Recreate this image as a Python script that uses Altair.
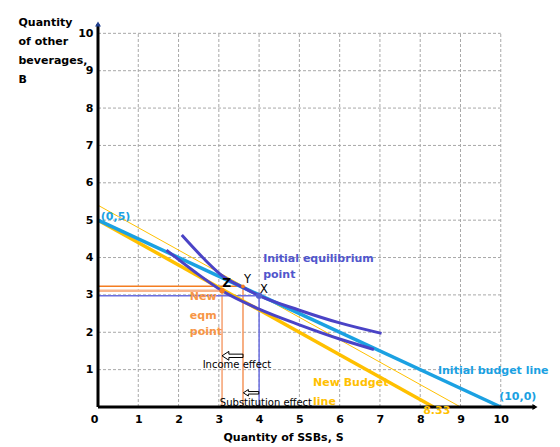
import altair as alt
import pandas as pd

# Axis extents (a little beyond 10 to leave room for the arrow heads)
S_MAX, B_MAX = 10.85, 10.25

x_ticks = list(range(0, 11))
y_ticks = list(range(1, 11))
grid_vals = list(range(1, 11))

# Budget lines
init_S, init_B = [0, 10], [5, 0]
new_S, new_B = [0, 8.33], [5, 0]
comp_S, comp_B = [0, 9], [5.4, 0]

# Indifference curves
ic1_S = [2.08, 2.6, 3.1, 3.6, 4.0, 5.0, 6.0, 7.04]
ic1_B = [4.6, 4.0, 3.5, 3.2, 2.98, 2.59, 2.25, 1.97]
ic2_S = [1.7, 2.4, 3.08, 4.0, 5.0, 6.0, 6.85]
ic2_B = [4.2, 3.62, 3.11, 2.62, 2.2, 1.82, 1.54]

# Equilibrium points
pt_name = ["X", "Y", "Z"]
pt_S = [4.0, 3.6, 3.08]
pt_B = [2.98, 3.23, 3.11]

BLUE = "#1BA1E2"
GOLD = "#FFC000"
PURPLE = "#4A43C6"
ORANGE = "#F47C20"
PEACH = "#F8B48A"
LAVENDER = "#6B6FE0"
FONT = "DejaVu Sans"

xs = alt.Scale(domain=[0, S_MAX], nice=False, zero=True)
ys = alt.Scale(domain=[0, B_MAX], nice=False, zero=True)

x_axis = alt.Axis(
    values=x_ticks, grid=False, domain=False, ticks=False, labelPadding=6,
    labelFont=FONT, labelFontWeight="bold", labelFontSize=11, labelColor="black",
    labelAlign={"condition": {"test": "datum.value == 0", "value": "right"}, "value": "center"},
    title="Quantity of SSBs, S", titleFont=FONT, titleFontWeight="bold", titleFontSize=11,
    titleColor="black", titleX=185, titleY=30, titleBaseline="middle")
y_axis = alt.Axis(
    values=y_ticks, grid=False, domain=False, ticks=False, labelPadding=5,
    labelFont=FONT, labelFontWeight="bold", labelFontSize=11, labelColor="black",
    title=["Quantity", "of other", "beverages,", "B"], titleAngle=0, titleAlign="left",
    titleBaseline="top", titleX=-80, titleY=-8, titleLineHeight=19,
    titleFont=FONT, titleFontWeight="bold", titleFontSize=11, titleColor="black")


def X(field="S", **kw):
    return alt.X(f"{field}:Q", scale=xs, axis=x_axis, **kw)


def Y(field="B", **kw):
    return alt.Y(f"{field}:Q", scale=ys, axis=y_axis, **kw)


# Dashed grid, stopping at 10 on both axes
vgrid = pd.DataFrame({"S": grid_vals, "B0": 0, "B1": 10})
hgrid = pd.DataFrame({"B": grid_vals, "S0": 0, "S1": 10})
grid_style = dict(color="#A8A8A8", strokeDash=[3, 2], strokeWidth=1)

vg = alt.Chart(vgrid).mark_rule(**grid_style).encode(x=X(), y=Y("B0"), y2="B1")
hg = alt.Chart(hgrid).mark_rule(**grid_style).encode(y=Y(), x=X("S0"), x2="S1")


def seg(S, B, color, width):
    df = pd.DataFrame({"S": S, "B": B, "o": range(len(S))})
    return alt.Chart(df).mark_line(color=color, strokeWidth=width, interpolate="monotone").encode(
        x=X(), y=Y(), order="o:Q")


comp_line = seg(comp_S, comp_B, GOLD, 1)
new_line = seg(new_S, new_B, GOLD, 3.5)
init_line = seg(init_S, init_B, BLUE, 3.5)
ic1 = seg(ic1_S, ic1_B, PURPLE, 3)
ic2 = seg(ic2_S, ic2_B, PURPLE, 3)

# Dropped guides from each equilibrium point to both axes
pts = pd.DataFrame({"name": pt_name, "S": pt_S, "B": pt_B,
                    "vcol": [LAVENDER, "#F5955A", "#F5A070"],
                    "hcol": [LAVENDER, ORANGE, PEACH],
                    "hw": [1.5, 1.5, 2.5]})
pts["zero"] = 0.0
vguide = alt.Chart(pts).mark_rule(strokeWidth=1.5).encode(
    x=X(), y=Y("zero"), y2="B", color=alt.Color("vcol:N", scale=None))
hguide = alt.Chart(pts).mark_rule().encode(
    y=Y(), x=X("zero"), x2="S", color=alt.Color("hcol:N", scale=None),
    strokeWidth=alt.StrokeWidth("hw:Q", scale=None))

dot_x = alt.Chart(pts[pts.name == "X"]).mark_point(filled=True, size=40, color="#5560D0", opacity=1).encode(x=X(), y=Y())
dot_y = alt.Chart(pts[pts.name == "Y"]).mark_point(filled=True, size=14, color=ORANGE, opacity=1).encode(x=X(), y=Y())
dot_z = alt.Chart(pts[pts.name == "Z"]).mark_point(filled=True, size=30, color=ORANGE, opacity=1).encode(x=X(), y=Y())

# Axis lines with arrow heads
axis_df = pd.DataFrame({"S": [0], "B": [0], "S1": [S_MAX], "B1": [B_MAX]})
x_axis_line = alt.Chart(axis_df).mark_rule(color="black", strokeWidth=3).encode(x=X(), x2="S1", y=Y())
y_axis_line = alt.Chart(axis_df).mark_rule(color="black", strokeWidth=3).encode(x=X(), y=Y(), y2="B1")
x_head = alt.Chart(pd.DataFrame({"S": [S_MAX], "B": [0]})).mark_point(
    shape="triangle-right", filled=True, size=35, color="black", opacity=1).encode(x=X(), y=Y())
y_head = alt.Chart(pd.DataFrame({"S": [0], "B": [B_MAX]})).mark_point(
    shape="triangle-up", filled=True, size=35, color="#1F3F8F", opacity=1).encode(x=X(), y=Y())

# Hollow arrows for income and substitution effects
ARROW = "M-1,0 L-0.35,-0.42 L-0.35,-0.16 L1,-0.16 L1,0.16 L-0.35,0.16 L-0.35,0.42 Z"
arrows = pd.DataFrame({
    "S": [(pt_S[1] + pt_S[2]) / 2, (pt_S[0] + pt_S[1]) / 2],
    "B": [1.37, 0.38],
    "sz": [441, 240],
})
arrow_marks = alt.Chart(arrows).mark_point(shape=ARROW, filled=False, color="black",
                                           strokeWidth=1, opacity=1).encode(
    x=X(), y=Y(), size=alt.Size("sz:Q", scale=None))

# Text labels
bold_left = pd.DataFrame({
    "text": ["(0,5)", "Initial equilibrium", "point", "New", "eqm", "point",
             "New Budget", "line", "Initial budget line", "(10,0)"],
    "S": [0.07, 4.1, 4.1, 2.28, 2.28, 2.28, 5.34, 5.34, 8.44, 9.96],
    "B": [5.09, 3.95, 3.53, 2.95, 2.43, 2.01, 0.63, 0.14, 0.97, 0.26],
    "col": [BLUE, "#5156CC", "#5156CC", "#F79646", "#F79646", "#F79646",
            GOLD, GOLD, BLUE, BLUE],
})
bold_text = alt.Chart(bold_left).mark_text(
    align="left", baseline="middle", font=FONT, fontWeight="bold", fontSize=11).encode(
    x=X(), y=Y(), text="text:N", color=alt.Color("col:N", scale=None))

val_833 = alt.Chart(pd.DataFrame({"text": ["8.33"], "S": [8.41], "B": [-0.12]})).mark_text(
    align="center", baseline="middle", font=FONT, fontWeight="bold", fontSize=11, color=GOLD).encode(
    x=X(), y=Y(), text="text:N")

pt_labels = pd.DataFrame({"text": ["X", "Y"], "S": [4.12, 3.71], "B": [3.13, 3.4]})
pt_text = alt.Chart(pt_labels).mark_text(
    align="center", baseline="middle", font=FONT, fontSize=11.5, color="black").encode(
    x=X(), y=Y(), text="text:N")
z_text = alt.Chart(pd.DataFrame({"text": ["Z"], "S": [3.19], "B": [3.31]})).mark_text(
    align="center", baseline="middle", font=FONT, fontWeight="bold", fontSize=12, color="black").encode(
    x=X(), y=Y(), text="text:N")

effects = pd.DataFrame({"text": ["Income effect", "Substitution effect"],
                        "S": [3.45, 4.17], "B": [1.12, 0.11]})
effect_text = alt.Chart(effects).mark_text(
    align="center", baseline="middle", font=FONT, fontSize=10, color="black").encode(
    x=X(), y=Y(), text="text:N")

chart = alt.layer(
    vg, hg,
    vguide, hguide,
    comp_line, new_line, init_line, ic1, ic2,
    dot_x, dot_y, dot_z,
    x_axis_line, y_axis_line, x_head, y_head,
    arrow_marks,
    bold_text, val_833, pt_text, z_text, effect_text,
).properties(
    width=437, height=383,
    autosize=alt.AutoSizeParams(type="none"),
    padding={"left": 98, "top": 24, "right": 25, "bottom": 40},
    background="white",
).configure_view(stroke=None)

chart.save("out.html", embed_options={"renderer": "svg", "actions": False})
